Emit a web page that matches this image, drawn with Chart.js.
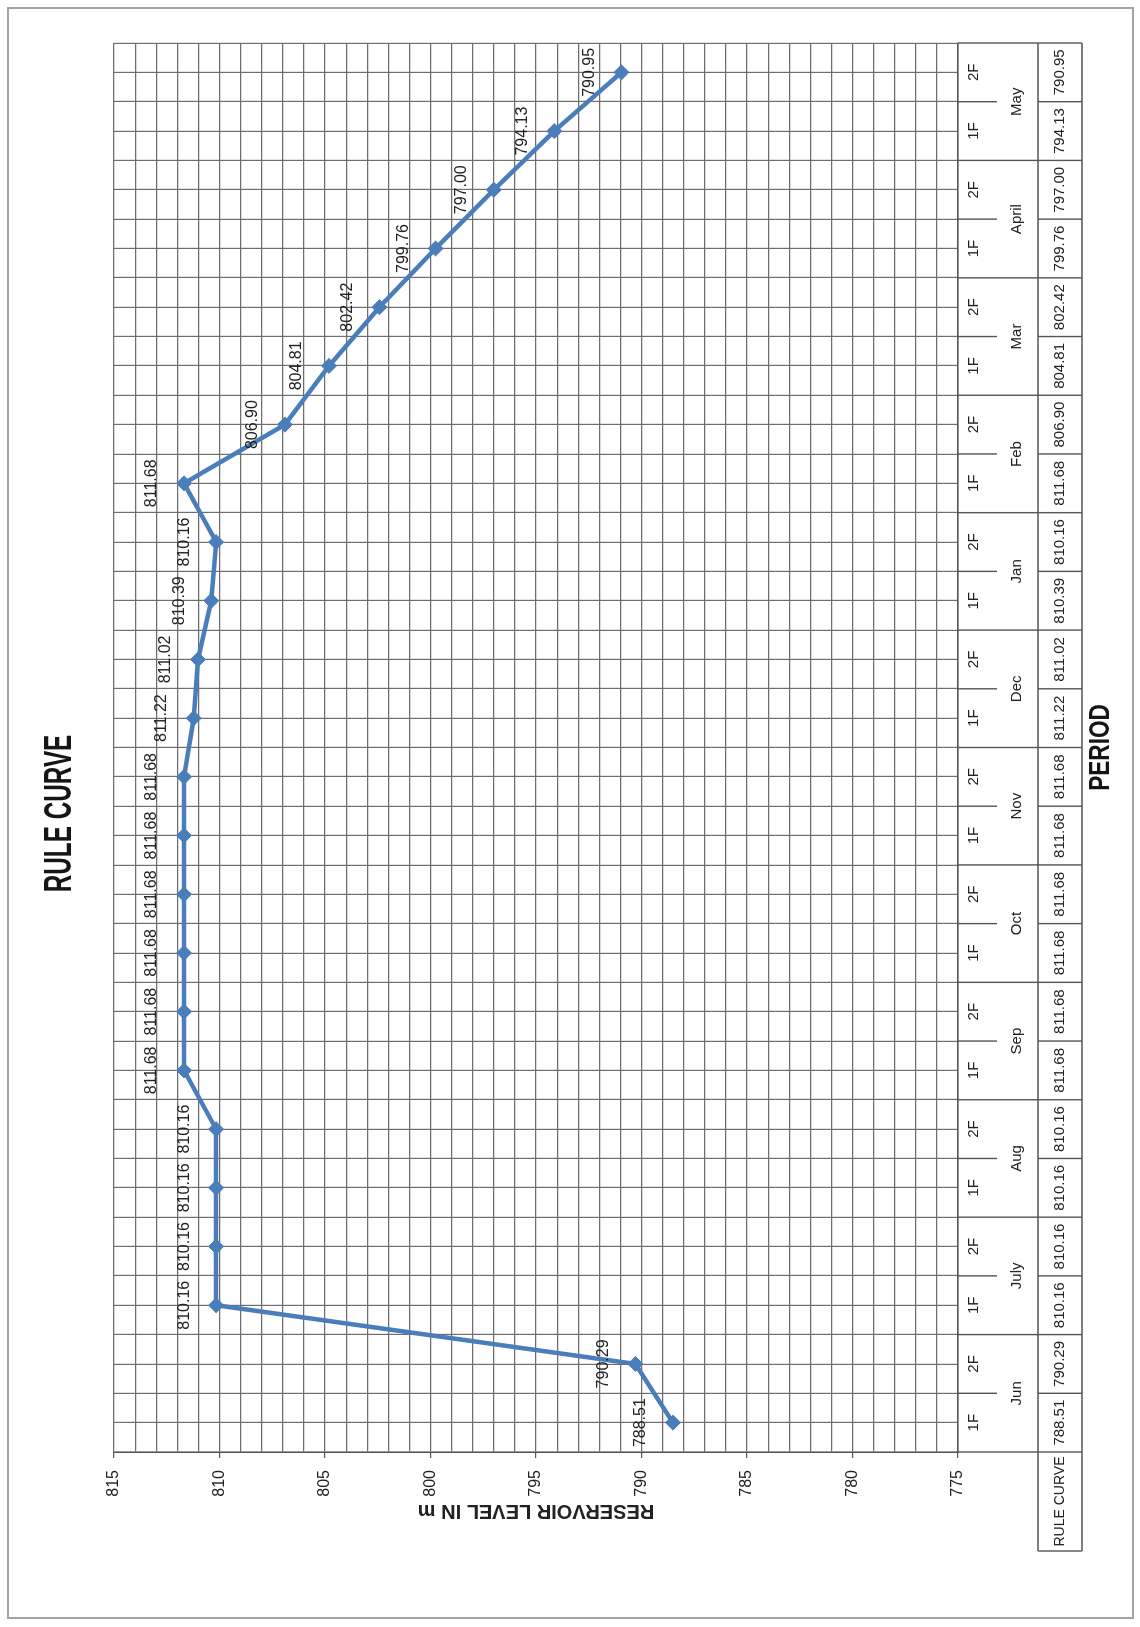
<!DOCTYPE html>
<html>
<head>
<meta charset="utf-8">
<title>Rule Curve</title>
<script src="https://cdn.jsdelivr.net/npm/chart.js@4.4.1/dist/chart.umd.min.js"></script>
<style>
  html, body { margin: 0; padding: 0; background: #fff; overflow: hidden; }
  body { width: 1140px; height: 1627px; position: relative; }
  #frame { position: absolute; left: 7px; top: 7px; width: 1123px; height: 1608px; border: 2px solid #a3a3a3; }
  /* the chart sheet is laid out landscape and turned a quarter turn counter-clockwise */
  #sheet { position: absolute; left: 0; top: 0; width: 1627px; height: 1140px;
           transform-origin: 0 0; transform: translate(0, 1627px) rotate(-90deg); }
</style>
</head>
<body>
<div id="frame"></div>
<div id="sheet"><canvas id="c" width="1627" height="1140"></canvas></div>
<script>
// fortnights of the water year
const months = ['Jun', 'July', 'Aug', 'Sep', 'Oct', 'Nov', 'Dec', 'Jan', 'Feb', 'Mar', 'April', 'May'];
const halves = ['1F', '2F'];
// reservoir level (m) at each fortnight
const ruleCurve = [
  788.51, 790.29, 810.16, 810.16, 810.16, 810.16,
  811.68, 811.68, 811.68, 811.68, 811.68, 811.68,
  811.22, 811.02, 810.39, 810.16, 811.68, 806.90,
  804.81, 802.42, 799.76, 797.00, 794.13, 790.95
];
const levelMin = 775, levelMax = 815, levelStep = 1, labelEvery = 5;

const periods = months.flatMap(m => halves.map(h => h + ' ' + m));

const FONT = '"Liberation Sans", Arial, sans-serif';
const INK = '#222';
const LINE = '#4A7EBB';
const GRID = '#6e6e6e';

Chart.defaults.font.family = FONT;

function condensedText(ctx, text, x, y, font, sx) {
  ctx.save();
  ctx.translate(x, y);
  ctx.scale(sx, 1);
  ctx.font = font;
  ctx.fillStyle = '#151515';
  ctx.textAlign = 'center';
  ctx.textBaseline = 'middle';
  ctx.fillText(text, 0, 0);
  ctx.restore();
}

// chart title and category-axis title
const titles = {
  id: 'titles',
  afterDraw(chart) {
    const { ctx, chartArea: a } = chart;
    condensedText(ctx, 'RULE CURVE', chart.width / 2, 61, 'bold 38px ' + FONT, 0.64);
    condensedText(ctx, 'PERIOD', (a.left + a.right) / 2, a.bottom + 143, 'bold 29px ' + FONT, 0.78);
  }
};

// value labels above each point
const pointLabels = {
  id: 'pointLabels',
  afterDatasetsDraw(chart) {
    const { ctx } = chart;
    const meta = chart.getDatasetMeta(0);
    ctx.save();
    ctx.font = '16px ' + FONT;
    ctx.fillStyle = INK;
    ctx.textAlign = 'center';
    ctx.textBaseline = 'middle';
    meta.data.forEach((pt, i) => {
      ctx.fillText(ruleCurve[i].toFixed(2), pt.x, pt.y - 32);
    });
    ctx.restore();
  }
};

// data table under the category axis: fortnight, month, value
const dataTable = {
  id: 'dataTable',
  afterDraw(chart) {
    const { ctx, chartArea: a, scales: { x } } = chart;
    const band = x.getPixelForValue(1) - x.getPixelForValue(0);
    const top = a.bottom, mid = top + 39, hdr = top + 80, bot = top + 124;
    const labelLeft = a.left - 99;
    ctx.save();
    ctx.strokeStyle = '#555';
    ctx.lineWidth = 1.4;
    ctx.beginPath();
    ctx.moveTo(labelLeft, hdr); ctx.lineTo(a.right, hdr);
    ctx.moveTo(labelLeft, bot); ctx.lineTo(a.right, bot);
    ctx.moveTo(labelLeft, hdr); ctx.lineTo(labelLeft, bot);
    ctx.moveTo(a.left, top); ctx.lineTo(a.left, bot);
    for (let i = 1; i <= ruleCurve.length; i++) {
      const u = x.getPixelForValue(i) - band / 2;
      if (i % 2 === 0) {
        ctx.moveTo(u, top); ctx.lineTo(u, bot);
      } else {
        ctx.moveTo(u, top); ctx.lineTo(u, mid);
        ctx.moveTo(u, hdr); ctx.lineTo(u, bot);
      }
    }
    ctx.stroke();

    ctx.fillStyle = INK;
    ctx.textAlign = 'center';
    ctx.textBaseline = 'middle';
    ctx.font = '15px ' + FONT;
    ruleCurve.forEach((v, i) => {
      const cx = x.getPixelForValue(i);
      ctx.fillText(halves[i % halves.length], cx, top + 16);
      ctx.fillText(v.toFixed(2), cx, top + 102);
    });
    months.forEach((m, k) => {
      const cx = x.getPixelForValue(k * 2) + band / 2;
      ctx.fillText(m, cx, top + 59);
    });
    ctx.font = '14px ' + FONT;
    ctx.fillText('RULE CURVE', (labelLeft + a.left) / 2, top + 102);
    ctx.restore();
  }
};

new Chart(document.getElementById('c'), {
  type: 'line',
  data: {
    labels: periods,
    datasets: [{
      label: 'RULE CURVE',
      data: ruleCurve,
      borderColor: LINE,
      backgroundColor: LINE,
      borderWidth: 4.5,
      pointStyle: 'rectRot',
      pointRadius: 7.5,
      pointBorderWidth: 1,
      tension: 0,
      clip: false
    }]
  },
  options: {
    responsive: false,
    animation: false,
    devicePixelRatio: 1,
    layout: { padding: { left: 104, right: 43, top: 114, bottom: 0 } },
    plugins: {
      legend: { display: false },
      tooltip: { enabled: false },
      title: { display: false }
    },
    scales: {
      x: {
        type: 'category',
        offset: true,
        grid: { offset: true, color: GRID, lineWidth: 1.2, drawTicks: false },
        border: { color: '#555', width: 1.5 },
        ticks: { display: false },
        afterFit: s => { s.height = 182; }
      },
      xc: {
        type: 'category',
        position: 'bottom',
        offset: true,
        grid: { offset: false, color: GRID, lineWidth: 1.2, drawTicks: false },
        border: { display: false },
        ticks: { display: false },
        afterFit: s => { s.height = 0; }
      },
      y: {
        min: levelMin,
        max: levelMax,
        ticks: {
          stepSize: levelStep,
          autoSkip: false,
          padding: 12,
          color: INK,
          font: { size: 16 },
          callback: v => (v % labelEvery === 0 ? v : '')
        },
        grid: {
          color: GRID,
          lineWidth: 1.2,
          tickLength: 6,
          tickColor: c => (c.tick && c.tick.value % labelEvery === 0 ? '#555' : 'rgba(0,0,0,0)')
        },
        border: { color: '#555', width: 1.5 },
        title: {
          display: true,
          text: 'RESERVOIR LEVEL IN m',
          font: { size: 20, weight: 'bold' },
          padding: 0,
          color: INK
        },
        afterFit: s => { s.width = 71; }
      }
    }
  },
  plugins: [titles, pointLabels, dataTable]
});
</script>
</body>
</html>
